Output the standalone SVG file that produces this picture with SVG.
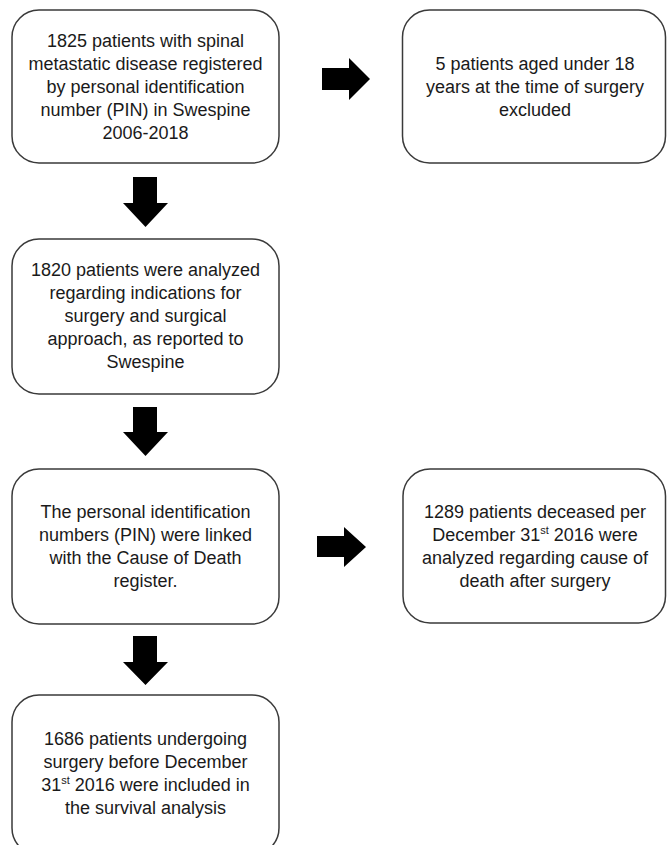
<svg xmlns="http://www.w3.org/2000/svg" width="667" height="845" viewBox="0 0 667 845">
<style>
.box{fill:#ffffff;stroke:#3a3a3a;stroke-width:1.5}
.t{font-family:"Liberation Sans",Arial,sans-serif;font-size:18px;fill:#1a1a1a;text-anchor:middle}
.sup{font-size:11px}
.arr{fill:#000000}
</style>
<rect width="667" height="845" fill="#ffffff"/>
<g id="connectors">
<polygon class="arr" points="322,68 349,68 349,58 370,79 349,100 349,90 322,90"/>
<polygon class="arr" points="317,536 344,536 344,527 366,547 344,567 344,557 317,557"/>
<polygon class="arr" points="133,177 157,177 157,203 168,203 145.5,227 123,203 133,203"/>
<polygon class="arr" points="133,407 157,407 157,432 168,432 145.5,456 123,432 133,432"/>
<polygon class="arr" points="133,636 157,636 157,662 168,662 145.5,685 123,662 133,662"/>
</g>
<g id="n1">
<rect class="box" x="12" y="10" width="267" height="153" rx="27" ry="27"/>
<text class="t" x="145.5" y="47">1825 patients with spinal</text>
<text class="t" x="145.5" y="70">metastatic disease registered</text>
<text class="t" x="145.5" y="93">by personal identification</text>
<text class="t" x="145.5" y="116">number (PIN) in Swespine</text>
<text class="t" x="145.5" y="139">2006-2018</text>
</g>
<g id="n2">
<rect class="box" x="402.5" y="10" width="263" height="153" rx="27" ry="27"/>
<text class="t" x="535" y="70">5 patients aged under 18</text>
<text class="t" x="535" y="93">years at the time of surgery</text>
<text class="t" x="535" y="116">excluded</text>
</g>
<g id="n3">
<rect class="box" x="12" y="239" width="267" height="155" rx="27" ry="27"/>
<text class="t" x="145.5" y="276">1820 patients were analyzed</text>
<text class="t" x="145.5" y="299">regarding indications for</text>
<text class="t" x="145.5" y="322">surgery and surgical</text>
<text class="t" x="145.5" y="345">approach, as reported to</text>
<text class="t" x="145.5" y="368">Swespine</text>
</g>
<g id="n4">
<rect class="box" x="12" y="469" width="267" height="155" rx="27" ry="27"/>
<text class="t" x="145.5" y="518">The personal identification</text>
<text class="t" x="145.5" y="541">numbers (PIN) were linked</text>
<text class="t" x="145.5" y="564">with the Cause of Death</text>
<text class="t" x="145.5" y="587">register.</text>
</g>
<g id="n5">
<rect class="box" x="403" y="469" width="262.5" height="154" rx="27" ry="27"/>
<text class="t" x="535" y="518">1289 patients deceased per</text>
<text class="t" x="535" y="541">December 31<tspan class="sup" dy="-7">st</tspan><tspan dy="7"> 2016 were</tspan></text>
<text class="t" x="535" y="564">analyzed regarding cause of</text>
<text class="t" x="535" y="587">death after surgery</text>
</g>
<g id="n6">
<rect class="box" x="12" y="695" width="267" height="160" rx="27" ry="27"/>
<text class="t" x="145.5" y="745">1686 patients undergoing</text>
<text class="t" x="145.5" y="768">surgery before December</text>
<text class="t" x="145.5" y="791">31<tspan class="sup" dy="-7">st</tspan><tspan dy="7"> 2016 were included in</tspan></text>
<text class="t" x="145.5" y="814">the survival analysis</text>
</g>
</svg>
